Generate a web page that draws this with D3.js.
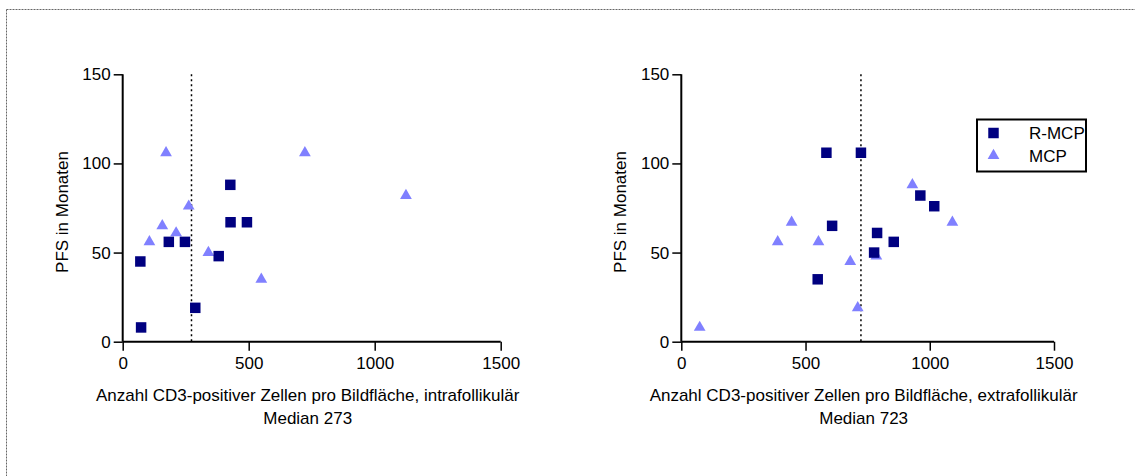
<!DOCTYPE html>
<html>
<head>
<meta charset="utf-8">
<script src="https://cdn.jsdelivr.net/npm/d3@7"></script>
<style>
  html, body { margin: 0; padding: 0; background: #fff; }
  svg { display: block; }
  text { font-family: "Liberation Sans", Arial, sans-serif; fill: #000; }
</style>
</head>
<body>
<svg id="chart" width="1135" height="476"></svg>
<script>
// ---- data ----
const seriesNames = ["R-MCP", "MCP"];
const xTicks = [0, 500, 1000, 1500];
const yTicks = [0, 50, 100, 150];

// left panel: intrafollicular
const intraRmcpX = [70, 73, 183, 247, 288, 381, 427, 428, 493];
const intraRmcpY = [45, 8, 56, 56, 19, 48, 88, 67, 67];
const intraMcpX = [106, 157, 172, 212, 262, 340, 550, 723, 1124];
const intraMcpY = [56, 65, 106, 61, 76, 50, 35, 106, 82];
const intraMedian = 273;

// right panel: extrafollicular
const extraRmcpX = [584, 723, 607, 549, 776, 788, 855, 962, 1018];
const extraRmcpY = [106, 106, 65, 35, 50, 61, 56, 82, 76];
const extraMcpX = [74, 388, 444, 552, 680, 710, 785, 930, 1091];
const extraMcpY = [8, 56, 67, 56, 45, 19, 48, 88, 67];
const extraMedian = 723;

const xTitles = ["Anzahl CD3-positiver Zellen pro Bildfläche, intrafollikulär",
                 "Anzahl CD3-positiver Zellen pro Bildfläche, extrafollikulär"];
const subTitles = ["Median 273", "Median 723"];
const yTitle = "PFS in Monaten";

const colors = { "R-MCP": "#000080", "MCP": "#8080FF" };

// ---- drawing ----
const svg = d3.select("#chart");

// outer dotted frame (top and left edges)
svg.append("line").attr("x1", 6.5).attr("x2", 1135).attr("y1", 9.5).attr("y2", 9.5)
  .attr("stroke", "#666").attr("stroke-width", 1).attr("stroke-dasharray", "2,1");
svg.append("line").attr("x1", 6.5).attr("x2", 6.5).attr("y1", 9.5).attr("y2", 476)
  .attr("stroke", "#666").attr("stroke-width", 1).attr("stroke-dasharray", "2,1");

const sq = d3.symbol().type(d3.symbolSquare).size(110);
const tri = d3.symbol().type(d3.symbolTriangle).size(60);

function panel(cfg) {
  const x = d3.scaleLinear().domain([0, 1500]).range([cfg.x0, cfg.x1]);
  const y = d3.scaleLinear().domain([0, 150]).range([341.7, 74.3]);
  const g = svg.append("g");

  const xAxis = g.append("g").attr("transform", `translate(0,${y(0)})`)
    .call(d3.axisBottom(x).tickValues(xTicks).tickFormat(d3.format("d"))
      .tickSize(9).tickSizeOuter(0).tickPadding(6));
  const yAxis = g.append("g").attr("transform", `translate(${x(0)},0)`)
    .call(d3.axisLeft(y).tickValues(yTicks).tickFormat(d3.format("d"))
      .tickSize(9).tickSizeOuter(0).tickPadding(3));
  [xAxis, yAxis].forEach(a => {
    a.select(".domain").attr("stroke", "#000").attr("stroke-width", 2);
    a.selectAll(".tick line").attr("stroke", "#000").attr("stroke-width", 1.5);
    a.selectAll(".tick text").attr("font-size", 17).attr("font-family", "Liberation Sans, Arial, sans-serif").attr("fill", "#000");
  });
  xAxis.select(".domain").attr("d", `M${x(0)},0H${x(1500)}`);
  yAxis.select(".domain").attr("d", `M0,${y(150)}V${y(0)}`);

  // median line
  g.append("line").attr("x1", x(cfg.median)).attr("x2", x(cfg.median))
    .attr("y1", y(150)).attr("y2", y(0))
    .attr("stroke", "#000").attr("stroke-width", 1.5).attr("stroke-dasharray", "2,3");

  // points
  const triData = cfg.mcpX.map((v, i) => [v, cfg.mcpY[i]]);
  const sqData = cfg.rX.map((v, i) => [v, cfg.rY[i]]);
  g.selectAll(".tri").data(triData).enter().append("path")
    .attr("d", tri).attr("fill", colors["MCP"])
    .attr("transform", d => `translate(${x(d[0])},${y(d[1])})`);
  g.selectAll(".sq").data(sqData).enter().append("path")
    .attr("d", sq).attr("fill", colors["R-MCP"])
    .attr("transform", d => `translate(${x(d[0])},${y(d[1])})`);

  // titles
  const cx = (cfg.x0 + cfg.x1) / 2 - 4;
  g.append("text").attr("x", cx).attr("y", 401).attr("text-anchor", "middle")
    .attr("font-size", 17).text(cfg.xTitle);
  g.append("text").attr("x", cx).attr("y", 424).attr("text-anchor", "middle")
    .attr("font-size", 17).text(cfg.sub);
  g.append("text").attr("transform", `translate(${cfg.x0 - 55},${(y(0) + y(150)) / 2 + 4}) rotate(-90)`)
    .attr("text-anchor", "middle").attr("font-size", 17).text(yTitle);
  return { x, y, g };
}

panel({ x0: 122.7, x1: 500.7, median: intraMedian, rX: intraRmcpX, rY: intraRmcpY,
        mcpX: intraMcpX, mcpY: intraMcpY, xTitle: xTitles[0], sub: subTitles[0] });
panel({ x0: 681.3, x1: 1054, median: extraMedian, rX: extraRmcpX, rY: extraRmcpY,
        mcpX: extraMcpX, mcpY: extraMcpY, xTitle: xTitles[1], sub: subTitles[1] });

// legend
const lg = svg.append("g").attr("transform", "translate(977,119.5)");
lg.append("rect").attr("width", 109).attr("height", 52)
  .attr("fill", "#fff").attr("stroke", "#000").attr("stroke-width", 2);
seriesNames.forEach((name, i) => {
  const yy = 13.5 + i * 22.5;
  lg.append("path").attr("d", name === "R-MCP" ? sq : tri)
    .attr("fill", colors[name]).attr("transform", `translate(16.5,${yy})`);
  lg.append("text").attr("x", 52).attr("y", yy + 6).attr("font-size", 17).text(name);
});
</script>
</body>
</html>
